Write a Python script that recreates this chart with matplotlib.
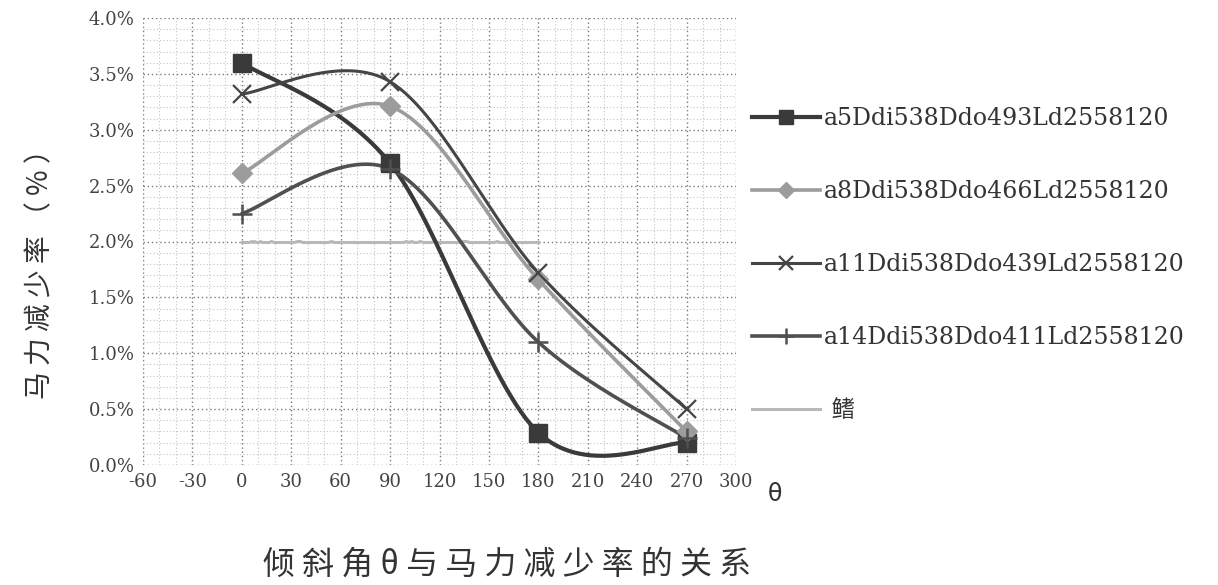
import numpy as np
import matplotlib
matplotlib.use("Agg")
import matplotlib.pyplot as plt
from matplotlib.ticker import MultipleLocator, FuncFormatter
from matplotlib.lines import Line2D

plt.rcParams["axes.unicode_minus"] = False

# ---------------- data ----------------
theta = [0, 90, 180, 270]
s_a5 = [3.60, 2.70, 0.29, 0.20]
s_a8 = [2.61, 3.21, 1.66, 0.30]
s_a11 = [3.32, 3.43, 1.72, 0.50]
s_a14 = [2.25, 2.65, 1.10, 0.24]
fin_theta = [0, 90, 180]
s_fin = [2.0, 2.0, 2.0]

labels = ["a5Ddi538Ddo493Ld2558120", "a8Ddi538Ddo466Ld2558120",
          "a11Ddi538Ddo439Ld2558120", "a14Ddi538Ddo411Ld2558120", " 鳍"]
xticks = [-60, -30, 0, 30, 60, 90, 120, 150, 180, 210, 240, 270, 300]
title = "倾斜角θ与马力减少率的关系"
ylabel = "马力减少率（%）"


def smooth(xs, ys, n=60):
    """Excel-style smoothed line (Catmull-Rom as cubic Bezier)."""
    P = np.column_stack([xs, ys]).astype(float)
    m = len(P)
    out = []
    for i in range(m - 1):
        p0 = P[max(i - 1, 0)]
        p1 = P[i]
        p2 = P[i + 1]
        p3 = P[min(i + 2, m - 1)]
        c1 = p1 + (p2 - p0) / 6.0
        c2 = p2 - (p3 - p1) / 6.0
        t = np.linspace(0, 1, n)[:, None]
        seg = ((1 - t) ** 3) * p1 + 3 * ((1 - t) ** 2) * t * c1 + 3 * (1 - t) * t ** 2 * c2 + t ** 3 * p2
        out.append(seg if i == 0 else seg[1:])
    out = np.vstack(out)
    return out[:, 0], out[:, 1]


W, H = 1218, 585
fig = plt.figure(figsize=(W / 100, H / 100), dpi=100)
ax = fig.add_axes([143 / W, 1 - 465 / H, (736 - 143) / W, (465 - 18) / H])

serif = ["DejaVu Serif", "Noto Sans CJK SC"]
cjk = ["Noto Sans CJK SC", "DejaVu Sans"]

styles = [
    dict(color="#3a3a3a", lw=3.0, marker="s", ms=13, mfc="#3a3a3a", mec="#3a3a3a"),
    dict(color="#9c9c9c", lw=2.6, marker="D", ms=10, mfc="#9c9c9c", mec="#9c9c9c"),
    dict(color="#454545", lw=2.2, marker="x", ms=13, mfc="none", mec="#454545", mew=1.6),
    dict(color="#505050", lw=2.6, marker="+", ms=14, mfc="none", mec="#505050", mew=1.8),
]
series = [s_a5, s_a8, s_a11, s_a14]
handles = []
for ys, st, lab in zip(series, styles, labels[:4]):
    sx, sy = smooth(theta, ys)
    ax.plot(sx, sy, color=st["color"], lw=st["lw"], zorder=3, solid_capstyle="round")
    ax.plot(theta, ys, linestyle="none", marker=st["marker"], ms=st["ms"],
            mfc=st["mfc"], mec=st["mec"], mew=st.get("mew", 1.0), zorder=4)
    handles.append(Line2D([], [], color=st["color"], lw=st["lw"], marker=st["marker"],
                          ms=st["ms"] * 0.8, mfc=st["mfc"], mec=st["mec"], mew=st.get("mew", 1.0)))

fx, fy = smooth(fin_theta, s_fin)
ax.plot(fx, fy, color="#b8b8b8", lw=2.2, zorder=2)
handles.append(Line2D([], [], color="#b8b8b8", lw=2.2))

ax.set_xlim(-60, 300)
ax.set_ylim(0, 4.0)
ax.set_xticks(xticks)
ax.xaxis.set_minor_locator(MultipleLocator(10))
ax.yaxis.set_major_locator(MultipleLocator(0.5))
ax.yaxis.set_minor_locator(MultipleLocator(0.1))
ax.yaxis.set_major_formatter(FuncFormatter(lambda v, p: f"{v:.1f}%"))
ax.grid(which="major", color="#7a7a7a", linestyle=(0, (1, 2)), lw=1.0)
ax.grid(which="minor", color="#c4c4c4", linestyle=(0, (1, 2)), lw=0.8)
ax.set_axisbelow(True)
for sp in ax.spines.values():
    sp.set_visible(False)
ax.tick_params(which="both", length=0, labelsize=13, labelcolor="#444444", pad=6)
for lab in ax.get_xticklabels() + ax.get_yticklabels():
    lab.set_family(serif)

leg = fig.legend(handles, labels, loc="upper left", bbox_to_anchor=(752 / W, 1 - 107 / H),
                 frameon=False, prop={"family": serif, "size": 17}, handlelength=2.9,
                 handletextpad=0.15, labelspacing=2.12, borderpad=0, borderaxespad=0,
                 labelcolor="#333333")

fig.text(775 / W, 1 - 494 / H, "θ", fontsize=17, family=["DejaVu Sans"], color="#333333",
         ha="center", va="center")
fig.text(507 / W, 1 - 565 / H, " ".join(title), fontsize=23, family=cjk, color="#333333",
         ha="center", va="center")
fig.text(40 / W, 1 - 267 / H, " ".join(ylabel), fontsize=20, family=cjk, color="#333333",
         ha="center", va="center", rotation=90)

fig.savefig("out.png", dpi=100, facecolor="white")
